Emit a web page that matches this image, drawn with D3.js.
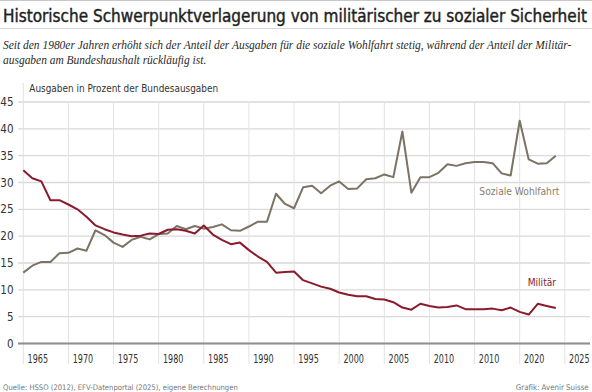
<!DOCTYPE html>
<html>
<head>
<meta charset="utf-8">
<script src="https://cdn.jsdelivr.net/npm/d3@7"></script>
<style>
  body { margin: 0; background: #fff; }
  svg { display: block; }
  .sans { font-family: "DejaVu Sans Condensed", "Liberation Sans Narrow", "Roboto", sans-serif; }
  .serif { font-family: "Liberation Serif", "DejaVu Serif", serif; font-style: italic; }
</style>
</head>
<body>
<svg id="chart"></svg>
<script>
// Jahre 1965–2024
const years = d3.range(1965, 2025)

// Anteil Militär (% der Bundesausgaben)
const militaer = [
  32.3, 30.8, 30.2, 26.7, 26.7, 25.9, 25.0, 23.6, 22.0, 21.3,
  20.7, 20.3, 20.0, 20.1, 20.5, 20.4, 21.2, 21.3, 21.0, 20.5,
  22.0, 20.3, 19.3, 18.5, 18.8, 17.4, 16.2, 15.2, 13.2, 13.3,
  13.4, 11.8, 11.2, 10.6, 10.2, 9.5, 9.1, 8.8, 8.8, 8.3,
  8.2, 7.7, 6.7, 6.3, 7.4, 7.0, 6.7, 6.8, 7.1, 6.4,
  6.4, 6.4, 6.5, 6.2, 6.7, 5.9, 5.4, 7.4, 7.0, 6.6
]

// Anteil soziale Wohlfahrt (% der Bundesausgaben)
const wohlfahrt = [
  13.2, 14.5, 15.2, 15.2, 16.8, 16.9, 17.7, 17.3, 21.1, 20.2,
  18.8, 18.0, 19.3, 19.9, 19.4, 20.4, 20.5, 21.9, 21.3, 21.9,
  21.4, 21.7, 22.2, 21.1, 21.0, 21.8, 22.7, 22.7, 27.9, 26.0,
  25.2, 29.1, 29.4, 28.0, 29.4, 30.2, 28.8, 28.9, 30.6, 30.8,
  31.5, 31.0, 39.5, 28.1, 31.0, 31.0, 31.8, 33.4, 33.1, 33.6,
  33.8, 33.8, 33.6, 31.7, 31.3, 41.5, 34.3, 33.5, 33.6, 35.0
]

const yTicks = [0, 5, 10, 15, 20, 25, 30, 35, 40, 45]
const xTickYears = [1965, 1970, 1975, 1980, 1985, 1990, 1995, 2000, 2005, 2010, 2015, 2020, 2025]
const xTickLabels = ['1965', '1970', '1975', '1980', '1985', '1990', '1995', '2000', '2005', '2010', '2010', '2020', '2025']

const title = 'Historische Schwerpunktverlagerung von militärischer zu sozialer Sicherheit'
const subtitle = [
  'Seit den 1980er Jahren erhöht sich der Anteil der Ausgaben für die soziale Wohlfahrt stetig, während der Anteil der Militär-',
  'ausgaben am Bundeshaushalt rückläufig ist.'
]
const axisTitle = 'Ausgaben in Prozent der Bundesausgaben'
const quelle = 'Quelle: HSSO (2012), EFV-Datenportal (2025), eigene Berechnungen'
const grafik = 'Grafik: Avenir Suisse'

const redColor = '#8a1b2d'
const greyColor = '#7b7364'

const width = 592
const height = 392

const svg = d3.select('#chart')
  .attr('width', width)
  .attr('height', height)

// Schriftgrösse so wählen, dass der Text eine bestimmte Breite hat
function fitWidth(sel, target) {
  sel.each(function () {
    const size = parseFloat(this.getAttribute('font-size'))
    const len = this.getComputedTextLength()
    if (len > 0) this.setAttribute('font-size', (size * target / len).toFixed(2))
  })
}

// Skalen
const x = d3.scaleLinear().domain([1965, 2028]).range([23.3, 591.9])
const y = d3.scaleLinear().domain([0, 45]).range([343.5, 102])

// Kopfbereich
svg.append('line')
  .attr('x1', 0).attr('x2', width).attr('y1', 0.5).attr('y2', 0.5)
  .attr('stroke', '#c8c8c8').attr('stroke-width', 1)

svg.append('text')
  .attr('class', 'sans')
  .attr('x', 3).attr('y', 21.8)
  .attr('font-size', 18)
  .attr('fill', '#1e1e1e')
  .attr('stroke', '#1e1e1e')
  .attr('stroke-width', 0.4)
  .text(title)
  .call(fitWidth, 584)

svg.append('line')
  .attr('x1', 0).attr('x2', width).attr('y1', 28.5).attr('y2', 28.5)
  .attr('stroke', '#d6d6d6').attr('stroke-width', 1)

svg.selectAll('.subtitle')
  .data(subtitle)
  .enter()
  .append('text')
  .attr('class', 'serif subtitle')
  .attr('x', 3)
  .attr('y', (d, i) => 48.5 + i * 15.5)
  .attr('font-size', 12.2)
  .attr('fill', '#2a2a2a')
  .text(d => d)

fitWidth(svg.selectAll('.subtitle').filter((d, i) => i === 0), 568)
svg.selectAll('.subtitle').filter((d, i) => i === 1)
  .attr('font-size', svg.select('.subtitle').attr('font-size'))

// horizontale Gitterlinien
svg.selectAll('.hgrid')
  .data(yTicks)
  .enter()
  .append('line')
  .attr('class', 'hgrid')
  .attr('x1', 18).attr('x2', 590)
  .attr('y1', d => y(d)).attr('y2', d => y(d))
  .attr('stroke', '#d9d9d9')
  .attr('stroke-width', 1.4)

// vertikale Gitterlinien
svg.selectAll('.vgrid')
  .data(xTickYears)
  .enter()
  .append('line')
  .attr('class', 'vgrid')
  .attr('x1', d => x(d)).attr('x2', d => x(d))
  .attr('y1', (d, i) => i === 0 ? 83 : y(45))
  .attr('y2', 364)
  .attr('stroke', '#e2e2e2')
  .attr('stroke-width', 1)

// Nulllinie
svg.append('line')
  .attr('x1', 18).attr('x2', 590)
  .attr('y1', y(0)).attr('y2', y(0))
  .attr('stroke', '#8e8e8e').attr('stroke-width', 2)

// Achsenbeschriftung y
svg.selectAll('.ylabel')
  .data(yTicks)
  .enter()
  .append('text')
  .attr('class', 'sans ylabel')
  .attr('x', 13.5)
  .attr('y', d => y(d))
  .attr('dy', '0.35em')
  .attr('text-anchor', 'end')
  .attr('font-size', 11.5)
  .attr('fill', '#333')
  .text(d => d)

// Achsenbeschriftung x
svg.selectAll('.xlabel')
  .data(xTickYears)
  .enter()
  .append('text')
  .attr('class', 'sans xlabel')
  .attr('x', d => x(d) + 4.3)
  .attr('y', 359)
  .attr('dy', '0.35em')
  .attr('font-size', 12)
  .attr('fill', '#333')
  .attr('textLength', 20.5)
  .attr('lengthAdjust', 'spacingAndGlyphs')
  .text((d, i) => xTickLabels[i])

svg.append('text')
  .attr('class', 'sans')
  .attr('x', 29.3).attr('y', 92)
  .attr('font-size', 12)
  .attr('fill', '#333')
  .text(axisTitle)
  .call(fitWidth, 189)

// Linien
const line = d3.line()
  .x(d => x(d[0]))
  .y(d => y(d[1]))

svg.append('path')
  .datum(years.map((yr, i) => [yr, wohlfahrt[i]]))
  .attr('fill', 'none')
  .attr('stroke', greyColor)
  .attr('stroke-width', 2)
  .attr('stroke-linejoin', 'round')
  .attr('d', line)

svg.append('path')
  .datum(years.map((yr, i) => [yr, militaer[i]]))
  .attr('fill', 'none')
  .attr('stroke', redColor)
  .attr('stroke-width', 2)
  .attr('stroke-linejoin', 'round')
  .attr('d', line)

// Serienbeschriftungen
svg.append('text')
  .attr('class', 'sans')
  .attr('x', 559.3).attr('y', 191.7)
  .attr('dy', '0.35em')
  .attr('text-anchor', 'end')
  .attr('font-size', 12.5)
  .attr('fill', '#857d70')
  .text('Soziale Wohlfahrt')
  .call(fitWidth, 80)

svg.append('text')
  .attr('class', 'sans')
  .attr('x', 556).attr('y', 282.7)
  .attr('dy', '0.35em')
  .attr('text-anchor', 'end')
  .attr('font-size', 12.5)
  .attr('fill', redColor)
  .text('Militär')
  .call(fitWidth, 28.3)

// Quelle
svg.append('text')
  .attr('class', 'sans')
  .attr('x', 3).attr('y', 387.3)
  .attr('dy', '0.35em')
  .attr('font-size', 9.5)
  .attr('fill', '#777')
  .text(quelle)
  .call(fitWidth, 235)

svg.append('text')
  .attr('class', 'sans')
  .attr('x', 588.7).attr('y', 387.3)
  .attr('dy', '0.35em')
  .attr('text-anchor', 'end')
  .attr('font-size', 9.5)
  .attr('fill', '#777')
  .text(grafik)
  .call(fitWidth, 73)
</script>
</body>
</html>
